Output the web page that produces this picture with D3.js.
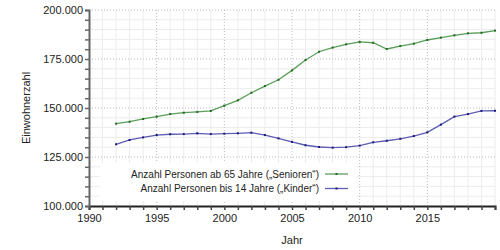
<!DOCTYPE html>
<html>
<head>
<meta charset="utf-8">
<script src="https://cdn.jsdelivr.net/npm/d3@7"></script>
<style>
	body { margin: 0; background: #fff; }
	text { font-family: "Liberation Sans", Arial, sans-serif; fill: #222; }
</style>
</head>
<body>
<svg id="chart"></svg>
<script>
'use strict'

var years = [1992, 1993, 1994, 1995, 1996, 1997, 1998, 1999, 2000, 2001,
	2002, 2003, 2004, 2005, 2006, 2007, 2008, 2009, 2010, 2011,
	2012, 2013, 2014, 2015, 2016, 2017, 2018, 2019, 2020];

var senioren = [142000, 143000, 144400, 145600, 146900, 147600, 148000, 148500, 151200, 153900,
	157800, 161200, 164400, 169200, 174500, 178700, 180800, 182500, 183700, 183300,
	180100, 181600, 182800, 184700, 185900, 187100, 188100, 188400, 189500];

var kinder = [131500, 133700, 135000, 136200, 136600, 136700, 137100, 136700, 136900, 137100,
	137400, 136200, 134500, 132700, 131000, 130100, 129800, 130000, 130800, 132500,
	133300, 134300, 135700, 137600, 141500, 145600, 146900, 148500, 148600];

var seriesNames = ["Anzahl Personen ab 65 Jahre (\u201ESenioren\u201C)", "Anzahl Personen bis 14 Jahre (\u201EKinder\u201C)"];
var xTicks = [1990, 1995, 2000, 2005, 2010, 2015];
var yTicks = [100000, 125000, 150000, 175000, 200000];

var WIDTH = 500,
	HEIGHT = 250;

var mLeft = 89, mRight = 495, mTop = 10, mBottom = 206;

var svg = d3.select("#chart")
	.attr("width", WIDTH)
	.attr("height", HEIGHT)

var x = d3.scaleLinear().domain([1990, 2020]).range([mLeft, mRight]);
var y = d3.scaleLinear().domain([100000, 200000]).range([mBottom, mTop]);

var fmtY = function (v) { return d3.format(",.0f")(v).replace(/,/g, "."); };

// minor grid
var yearsAll = d3.range(1990, 2021);
var minorY = d3.range(100000, 200001, 5000);

svg.append("g").selectAll("line")
	.data(yearsAll.filter(function (d) { return xTicks.indexOf(d) < 0; }))
	.enter().append("line")
	.attr("x1", function (d) { return x(d) }).attr("x2", function (d) { return x(d) })
	.attr("y1", mTop).attr("y2", mBottom)
	.style("stroke", "#ececec").style("stroke-width", 1)

svg.append("g").selectAll("line")
	.data(minorY.filter(function (d) { return yTicks.indexOf(d) < 0; }))
	.enter().append("line")
	.attr("x1", mLeft).attr("x2", mRight)
	.attr("y1", function (d) { return y(d) }).attr("y2", function (d) { return y(d) })
	.style("stroke", "#ececec").style("stroke-width", 1)

// major grid (dotted)
svg.append("g").selectAll("line")
	.data(xTicks.slice(1))
	.enter().append("line")
	.attr("x1", function (d) { return x(d) }).attr("x2", function (d) { return x(d) })
	.attr("y1", mTop).attr("y2", mBottom)
	.style("stroke", "#bbb").style("stroke-dasharray", "1,2")

svg.append("g").selectAll("line")
	.data(yTicks.slice(1))
	.enter().append("line")
	.attr("x1", mLeft).attr("x2", mRight)
	.attr("y1", function (d) { return y(d) }).attr("y2", function (d) { return y(d) })
	.style("stroke", "#bbb").style("stroke-dasharray", "1,2")

// legend box
svg.append("rect")
	.attr("x", 100).attr("y", 163)
	.attr("width", 257).attr("height", 38)
	.style("fill", "#fff")

// series
var series = [
	{ name: seriesNames[0], values: senioren, line: "#5a9e5a", dot: "#1f6b1f" },
	{ name: seriesNames[1], values: kinder, line: "#5d5db3", dot: "#1a1a80" }
];

var line = d3.line()
	.x(function (d, i) { return x(years[i]) })
	.y(function (d) { return y(d) })

series.forEach(function (s) {
	svg.append("path")
		.datum(s.values)
		.attr("d", line)
		.style("fill", "none")
		.style("stroke", s.line)
		.style("stroke-width", 1.3)

	svg.append("g").selectAll("rect")
		.data(s.values)
		.enter().append("rect")
		.attr("x", function (d, i) { return x(years[i]) - 1 })
		.attr("y", function (d) { return y(d) - 1 })
		.attr("width", 2).attr("height", 2)
		.style("fill", s.dot)
})

// legend
series.forEach(function (s, i) {
	var ly = 174 + i * 14.5;
	svg.append("text")
		.attr("x", 319).attr("y", ly + 3.6)
		.style("text-anchor", "end")
		.style("font-size", "10px")
		.text(s.name)
	svg.append("line")
		.attr("x1", 325).attr("x2", 348)
		.attr("y1", ly).attr("y2", ly)
		.style("stroke", s.line).style("stroke-width", 1.3)
	svg.append("rect")
		.attr("x", 335.5).attr("y", ly - 1)
		.attr("width", 2).attr("height", 2)
		.style("fill", s.dot)
})

// axes
var xAxis = d3.axisBottom(x)
	.tickValues(yearsAll)
	.tickSize(4)
	.tickFormat(function (d) { return xTicks.indexOf(d) >= 0 ? d : "" });

var gx = svg.append("g")
	.attr("transform", "translate(0," + mBottom + ")")
	.call(xAxis)
gx.select(".domain").style("stroke", "#222").style("stroke-width", 2)
gx.selectAll(".tick line").style("stroke", "#444").style("stroke-width", 1.5)
gx.selectAll(".tick text")
	.attr("y", 8)
	.style("font-size", "11px")
	.style("font-family", "Liberation Sans, Arial, sans-serif")
	.style("fill", "#222")

var yAxis = d3.axisLeft(y)
	.tickValues(minorY)
	.tickSize(4)
	.tickFormat(function (d) { return yTicks.indexOf(d) >= 0 ? fmtY(d) : "" });

var gy = svg.append("g")
	.attr("transform", "translate(" + mLeft + ",0)")
	.call(yAxis)
gy.select(".domain").style("stroke", "#666").style("stroke-width", 2)
gy.selectAll(".tick line").style("stroke", "#666").style("stroke-width", 1.5)
gy.selectAll(".tick text")
	.attr("x", -6)
	.style("font-size", "11px")
	.style("font-family", "Liberation Sans, Arial, sans-serif")
	.style("fill", "#222")

// axis titles
svg.append("text")
	.attr("x", (mLeft + mRight) / 2).attr("y", 244)
	.style("text-anchor", "middle")
	.style("font-size", "11px")
	.text("Jahr")

svg.append("text")
	.attr("transform", "translate(30," + ((mTop + mBottom) / 2) + ") rotate(-90)")
	.style("text-anchor", "middle")
	.style("font-size", "11px")
	.text("Einwohnerzahl")
</script>
</body>
</html>
